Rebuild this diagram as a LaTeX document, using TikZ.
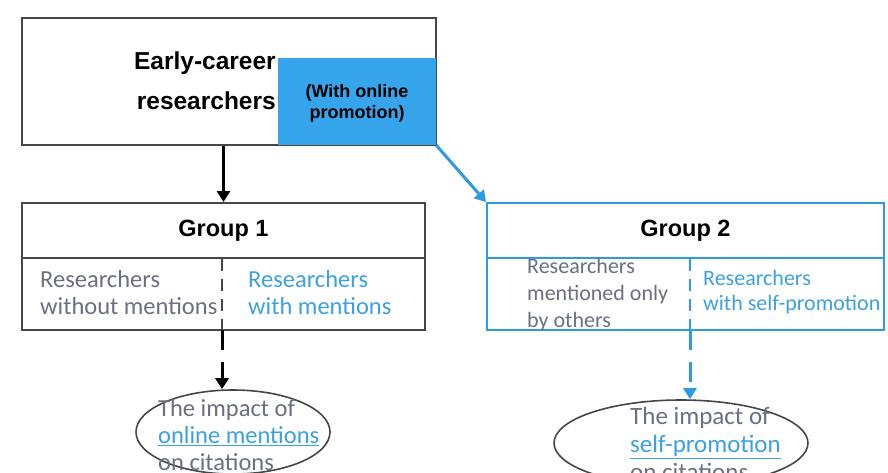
\documentclass[tikz,border=0pt]{standalone}
\usepackage{fontspec}
\setmainfont{Carlito}
\newfontfamily\headfont{Liberation Sans}
\usetikzlibrary{arrows.meta,shapes.geometric}
\definecolor{promoblue}{RGB}{55,165,235}
\definecolor{lineblue}{RGB}{45,155,225}
\definecolor{textblue}{RGB}{60,160,225}
\definecolor{textgray}{RGB}{105,112,128}
\definecolor{boxgray}{RGB}{70,70,70}
\tikzset{
  box/.style={draw=boxgray,line width=2pt,inner sep=0pt},
  bluebox/.style={draw=lineblue,line width=2pt,inner sep=0pt},
  head/.style={font=\headfont\bfseries\fontsize{23.5}{40}\selectfont},
  body/.style={inner sep=0pt,align=left,font=\fontsize{24.5}{27}\selectfont},
  impact/.style={draw=boxgray,line width=1.6pt,ellipse,inner sep=0pt},
}
\begin{document}
\begin{tikzpicture}[x=1pt,y=-1pt]
\useasboundingbox (0,0) rectangle (888,472);
\clip (0,0) rectangle (888,472);
%\draw[help lines,step=50] (0,0) grid (888,472);
\node[box,minimum width=414,minimum height=127]             (top)   at (229,81.5) {};
\node[fill=promoblue,minimum width=158,minimum height=87,inner sep=0pt] (promo) at (357,101.5) {};
\node[head,align=right,anchor=east,inner sep=0pt,font=\headfont\bfseries\fontsize{24.5}{40}\selectfont] (early) at (276,81) {Early-career\\researchers};
\node[align=center,inner sep=0pt,font=\headfont\bfseries\fontsize{18}{21}\selectfont] (with) at (357,103) {(With online\\promotion)};

\node[box,minimum width=403,minimum height=55]    (g1head) at (223.5,230.5) {};
\node[box,minimum width=403,minimum height=72]    (g1body) at (223.5,294) {};
\node[head]                                       (group1) at (223.5,231) {Group 1};
\node[body,text=textgray,anchor=west]             (without) at (40,293) {Researchers\\without mentions};
\node[body,text=textblue,anchor=west]             (withm)   at (248,293) {Researchers\\with mentions};
\coordinate (d1t) at (222,259);
\coordinate (d1b) at (222,330);

\node[bluebox,minimum width=397,minimum height=55] (g2head) at (685.5,230.5) {};
\node[bluebox,minimum width=397,minimum height=72] (g2body) at (685.5,294) {};
\node[head]                                        (group2) at (685.5,231) {Group 2};
\node[body,text=textgray,anchor=west,font=\fontsize{22}{27}\selectfont] (others) at (527,295) {Researchers\\mentioned only\\by others};
\node[body,text=textblue,anchor=west,font=\fontsize{22}{25}\selectfont] (self) at (703,292) {Researchers\\with self-promotion};
\coordinate (d2t) at (690,259);
\coordinate (d2b) at (690,330);

\node[impact,minimum width=194,minimum height=84]  (ell1) at (233,432) {};
\node[body,text=textgray,anchor=west]              (imp1) at (158,435) {The impact of\\\textcolor{textblue}{\underline{online mentions}}\\on citations};
\node[impact,minimum width=254,minimum height=86]  (ell2) at (681,443) {};
\node[body,text=textgray,anchor=west,font=\fontsize{25}{28}\selectfont] (imp2) at (630,444) {The impact of\\\textcolor{textblue}{\underline{self-promotion}}\\on citations};

\draw[boxgray,line width=2pt,dashed,dash pattern=on 12pt off 8pt] (d1t) -- (d1b);
\draw[lineblue,line width=2pt,dashed,dash pattern=on 12pt off 8pt] (d2t) -- (d2b);

\draw[-{Triangle[length=11pt,width=13pt]},line width=3pt] (g1head.north |- top.south) -- (g1head.north);
\draw[-{Triangle[length=11pt,width=13pt]},line width=3pt,lineblue] (promo.south east) -- (g2head.north west);
\draw[-{Triangle[length=11pt,width=13pt]},line width=3pt,dash pattern=on 20pt off 12pt] (d1b) -- (d1b |- ell1.north);
\draw[-{Triangle[length=11pt,width=13pt]},line width=3pt,lineblue,dash pattern=on 20pt off 12pt] (d2b) -- (d2b |- ell2.north);
\end{tikzpicture}
\end{document}
